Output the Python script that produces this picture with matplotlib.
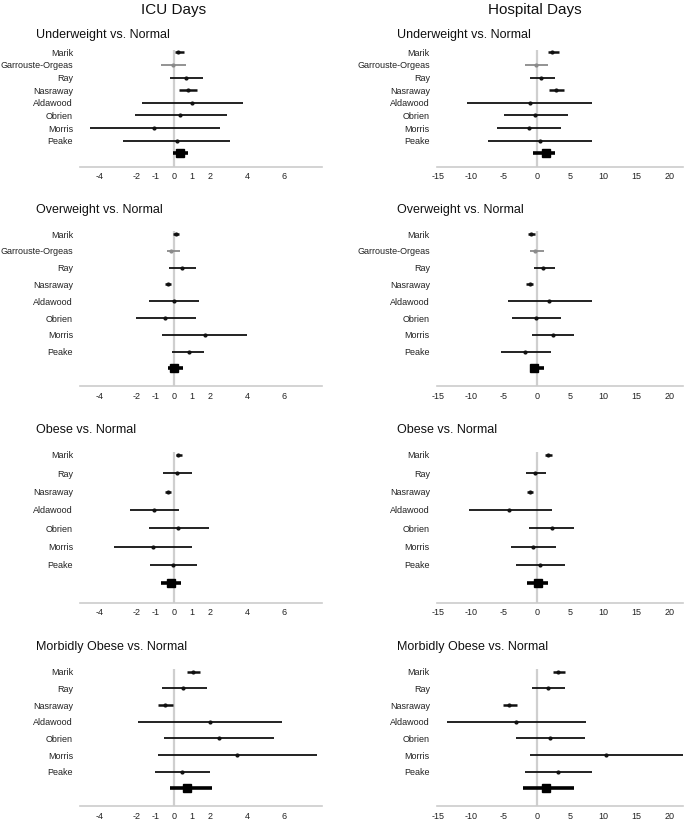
import matplotlib
matplotlib.use('Agg')
import matplotlib.pyplot as plt
from matplotlib.transforms import ScaledTranslation

plt.rcParams['font.family'] = ['Liberation Sans', 'DejaVu Sans']

# studies in each comparison
studies_uw = ['Marik', 'Garrouste-Orgeas', 'Ray', 'Nasraway', 'Aldawood', 'Obrien', 'Morris', 'Peake']
studies_ow = ['Marik', 'Garrouste-Orgeas', 'Ray', 'Nasraway', 'Aldawood', 'Obrien', 'Morris', 'Peake']
studies_ob = ['Marik', 'Ray', 'Nasraway', 'Aldawood', 'Obrien', 'Morris', 'Peake']
studies_mo = ['Marik', 'Ray', 'Nasraway', 'Aldawood', 'Obrien', 'Morris', 'Peake']

# ICU days: mean difference, lower and upper CI
icu_uw_est = [0.25, -0.04, 0.65, 0.80, 0.98, 0.36, -1.07, 0.16]
icu_uw_lo = [0.07, -0.69, -0.18, 0.31, -1.72, -2.12, -4.55, -2.74]
icu_uw_hi = [0.58, 0.65, 1.58, 1.27, 3.75, 2.88, 2.50, 3.06]
icu_uw_sum = [0.36, -0.02, 0.80]

icu_ow_est = [0.11, -0.14, 0.47, -0.33, 0.00, -0.45, 1.68, 0.82]
icu_ow_lo = [-0.05, -0.38, -0.24, -0.49, -1.36, -2.07, -0.63, -0.09]
icu_ow_hi = [0.29, 0.34, 1.21, -0.14, 1.39, 1.21, 3.99, 1.63]
icu_ow_sum = [0.02, -0.29, 0.53]

icu_ob_est = [0.25, 0.16, -0.33, -1.07, 0.25, -1.14, -0.02]
icu_ob_lo = [0.13, -0.58, -0.47, -2.37, -1.36, -3.22, -1.30]
icu_ob_hi = [0.45, 0.98, -0.16, 0.31, 1.94, 0.98, 1.29]
icu_ob_sum = [-0.13, -0.67, 0.38]

icu_mo_est = [1.07, 0.53, -0.45, 1.96, 2.46, 3.44, 0.45]
icu_mo_lo = [0.72, -0.63, -0.85, -1.92, -0.51, -0.85, -1.01]
icu_mo_hi = [1.45, 1.83, -0.04, 5.91, 5.47, 7.81, 1.99]
icu_mo_sum = [0.74, -0.22, 2.08]

# Hospital days
hos_uw_est = [2.32, -0.20, 0.56, 2.93, -1.06, -0.25, -1.26, 0.40]
hos_uw_lo = [1.67, -1.77, -1.06, 1.82, -10.6, -5.05, -6.06, -7.37]
hos_uw_hi = [3.38, 1.62, 2.68, 4.04, 8.33, 4.70, 3.69, 8.33]
hos_uw_sum = [1.31, -0.66, 2.78]

hos_ow_est = [-0.86, -0.25, 0.96, -1.11, 1.82, -0.10, 2.37, -1.77]
hos_ow_lo = [-1.36, -1.06, -0.40, -1.62, -4.39, -3.74, -0.76, -5.50]
hos_ow_hi = [-0.35, 1.06, 2.68, -0.61, 8.33, 3.69, 5.61, 2.12]
hos_ow_sum = [-0.45, -1.11, 1.01]

hos_ob_est = [1.72, -0.25, -1.06, -4.19, 2.22, -0.56, 0.45]
hos_ob_lo = [1.26, -1.67, -1.52, -10.35, -1.26, -3.89, -3.23]
hos_ob_hi = [2.32, 1.31, -0.61, 2.32, 5.61, 2.93, 4.24]
hos_ob_sum = [0.15, -1.52, 1.72]

hos_mo_est = [3.23, 1.67, -4.19, -3.18, 2.02, 10.45, 3.23]
hos_mo_lo = [2.37, -0.76, -5.20, -13.64, -3.18, -1.06, -1.77]
hos_mo_hi = [4.19, 4.19, -3.08, 7.47, 7.32, 24.0, 8.33]
hos_mo_sum = [1.36, -2.17, 5.61]

titles = ['Underweight vs. Normal', 'Overweight vs. Normal', 'Obese vs. Normal', 'Morbidly Obese vs. Normal']
icu_ticks = [-4, -2, -1, 0, 1, 2, 4, 6]
hos_ticks = [-15, -10, -5, 0, 5, 10, 15, 20]

W, H = 685, 822
fig = plt.figure(figsize=(W / 100, H / 100), dpi=100)


def add_px_axes(left, top, width, height):
    return fig.add_axes([left / W, 1 - (top + height) / H, width / W, height / H])


# layout of the four panel rows: first row pixel, row spacing, axis line pixel, title pixel
rows_layout = [(52.3, 12.63, 166.7, 35), (234, 16.81, 386, 210),
               (455, 18.33, 602.7, 430), (671.7, 16.67, 806, 647)]

panels = [
    (studies_uw, [icu_uw_est, icu_uw_lo, icu_uw_hi, icu_uw_sum], [hos_uw_est, hos_uw_lo, hos_uw_hi, hos_uw_sum]),
    (studies_ow, [icu_ow_est, icu_ow_lo, icu_ow_hi, icu_ow_sum], [hos_ow_est, hos_ow_lo, hos_ow_hi, hos_ow_sum]),
    (studies_ob, [icu_ob_est, icu_ob_lo, icu_ob_hi, icu_ob_sum], [hos_ob_est, hos_ob_lo, hos_ob_hi, hos_ob_sum]),
    (studies_mo, [icu_mo_est, icu_mo_lo, icu_mo_hi, icu_mo_sum], [hos_mo_est, hos_mo_lo, hos_mo_hi, hos_mo_sum]),
]

columns = [
    dict(left=80, width=242, xlim=(-5.09, 8.06), ticks=icu_ticks, title_x=36),
    dict(left=436.7, width=246.3, xlim=(-15.2, 22.1), ticks=hos_ticks, title_x=397),
]

thick = {'Marik': 1.8, 'Nasraway': 1.8}
grey = {'Garrouste-Orgeas': '#8a8a8a'}


def forest(ax, studies, vals, xlim, ticks, ybottom):
    est, lo, hi, summ = vals
    n = len(studies)
    ax.vlines(0, -0.15, ybottom, color='#cfcfcf', lw=1.6, zorder=0)
    for i, s in enumerate(studies):
        c = grey.get(s, '#111111')
        ax.plot([lo[i], hi[i]], [i, i], color=c, lw=thick.get(s, 1.3), solid_capstyle='butt')
        ax.plot(est[i], i, 'o', color=c, ms=2)
    ax.plot([summ[1], summ[2]], [n, n], color='black', lw=2.6, solid_capstyle='butt')
    ax.plot(summ[0], n, 's', color='black', ms=5.5)
    ax.set_xlim(*xlim)
    ax.set_ylim(ybottom, -0.8)
    ax.set_yticks(range(n))
    ax.set_yticklabels(studies, fontsize=6.5, color='#222222')
    # labels sit a little below their lines in the original
    shift = ScaledTranslation(0, -2 / 100, fig.dpi_scale_trans)
    for lab in ax.get_yticklabels():
        lab.set_transform(lab.get_transform() + shift)
    ax.set_xticks(ticks)
    ax.set_xticklabels([str(t) for t in ticks], fontsize=6.5, color='#222222')
    ax.tick_params(length=0)
    ax.tick_params(axis='y', pad=5)
    ax.tick_params(axis='x', pad=4)
    for sp in ['top', 'left', 'right']:
        ax.spines[sp].set_visible(False)
    ax.spines['bottom'].set_color('#cccccc')
    ax.spines['bottom'].set_linewidth(1.2)
    ax.patch.set_alpha(0)


for (studies, icu_vals, hos_vals), (row0, sp, axis_px, title_y), title in zip(panels, rows_layout, titles):
    ybottom = (axis_px - row0) / sp
    top_px = row0 - 0.8 * sp
    for col, vals in zip(columns, [icu_vals, hos_vals]):
        ax = add_px_axes(col['left'], top_px, col['width'], axis_px - top_px)
        forest(ax, studies, vals, col['xlim'], col['ticks'], ybottom)
        fig.text(col['title_x'] / W, 1 - title_y / H, title, fontsize=9, va='center', ha='left', color='#111111')

fig.text(174 / W, 1 - 10 / H, 'ICU Days', fontsize=11, ha='center', va='center', color='#111111')
fig.text(535 / W, 1 - 10 / H, 'Hospital Days', fontsize=11, ha='center', va='center', color='#111111')

fig.savefig('out.png', dpi=100)
